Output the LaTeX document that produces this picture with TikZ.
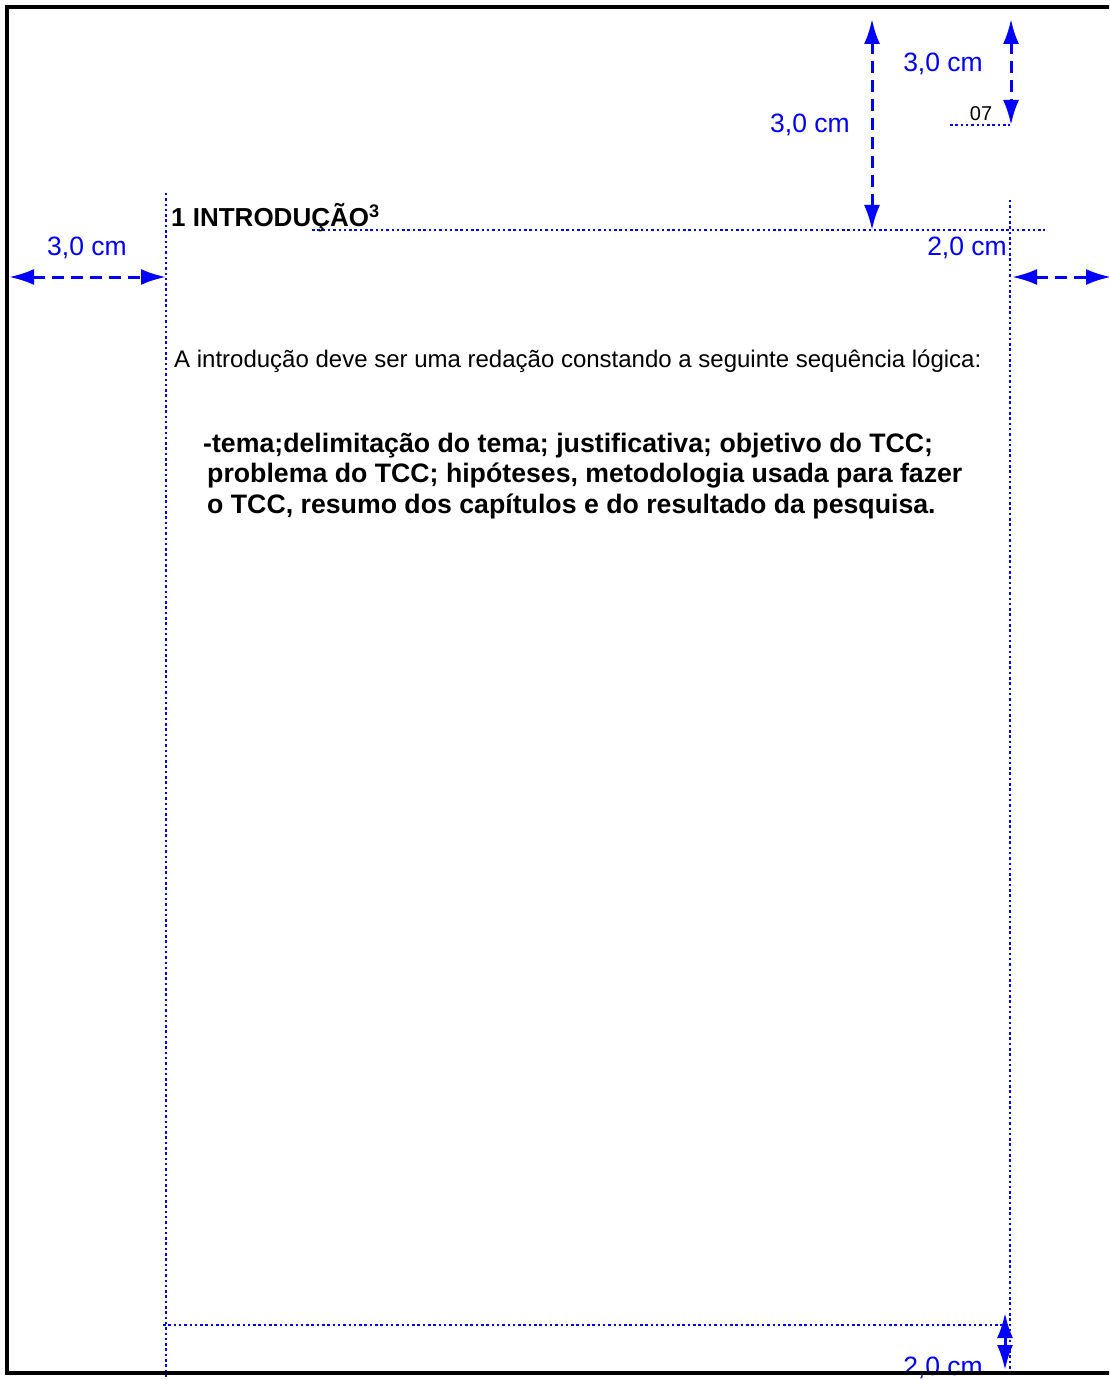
\documentclass[tikz,border=0pt]{standalone}
\usepackage{fontspec}
\setmainfont{Liberation Sans}
\usetikzlibrary{arrows.meta}
\definecolor{dimblue}{RGB}{0,0,255}
\tikzset{
  dimarrow/.style={draw=dimblue, line width=3pt, dash pattern=on 12pt off 7pt,
    {Latex[length=25pt,width=16pt]}-{Latex[length=25pt,width=16pt]}},
  guide/.style={draw=dimblue, line width=2.5pt, dash pattern=on 2.5pt off 2.8pt},
  dimlabel/.style={text=dimblue, font=\fontsize{26.5}{30}\selectfont, inner sep=0pt},
  bodytext/.style={font=\fontsize{24}{28}\selectfont, inner sep=0pt, anchor=base west},
  boldtext/.style={font=\bfseries\fontsize{26.7}{30}\selectfont, inner sep=0pt, anchor=base west}
}
\begin{document}
\begin{tikzpicture}[x=1pt,y=-1pt]
\useasboundingbox (0,0) rectangle (1109,1380);
\clip (0,0) rectangle (1109,1380);
% margin guides
\coordinate (lgTop) at (166,193);
\coordinate (lgBot) at (166,1380);
\coordinate (rgTop) at (1010,200);
\coordinate (rgBot) at (1010,1372);
\coordinate (tgL) at (312,230);
\coordinate (tgR) at (1045,230);
\coordinate (bgL) at (163,1325);
\coordinate (bgR) at (1010,1325);
\coordinate (pnL) at (950,125);
\coordinate (pnR) at (1010,125);
\draw[guide] (lgTop) -- (lgBot);
\draw[guide] (rgTop) -- (rgBot);
\draw[guide] (tgL) -- (tgR);
\draw[guide] (bgL) -- (bgR);
\draw[guide] (pnL) -- (pnR);
% dimension arrows
\coordinate (a1t) at (872,19);
\coordinate (a1b) at (872,230);
\draw[dimarrow] (a1t) -- (a1b);
\coordinate (a2t) at (1011,19);
\coordinate (a2b) at (1011,125);
\draw[dimarrow] (a2t) -- (a2b);
\coordinate (a3l) at (9,277);
\coordinate (a3r) at (166,277);
\draw[dimarrow] (a3l) -- (a3r);
\coordinate (a4l) at (1012,277);
\coordinate (a4r) at (1111,277);
\draw[dimarrow] (a4l) -- (a4r);
\coordinate (a5t) at (1005,1313);
\coordinate (a5b) at (1005,1370);
\draw[dimarrow, solid] (a5t) -- (a5b);
% labels
\node[dimlabel] (l1) at (810,125) {3,0 cm};
\node[dimlabel] (l2) at (943,64) {3,0 cm};
\node[dimlabel] (l3) at (87,248) {3,0 cm};
\node[dimlabel] (l4) at (967,248) {2,0 cm};
\node[dimlabel] (l5) at (943,1368) {2,0 cm};
\node[font=\fontsize{20}{24}\selectfont, inner sep=0pt] (pn) at (981,114) {07};
% texts
\node[boldtext, font=\bfseries\fontsize{26}{30}\selectfont] (head) at (171,227) {1 INTRODUÇÃO\textsuperscript{3}};
\node[bodytext] (intro) at (174,367) {A introdução deve ser uma redação constando a seguinte sequência lógica:};
\node[boldtext] (b1) at (203,452) {-tema;delimitação do tema; justificativa; objetivo do TCC;};
\node[boldtext] (b2) at (207,482) {problema do TCC; hipóteses, metodologia usada para fazer};
\node[boldtext] (b3) at (207,513) {o TCC, resumo dos capítulos e do resultado da pesquisa.};
% page frame (drawn on top)
\draw[line width=4pt] (7,7) rectangle (1140,1373);
\end{tikzpicture}
\end{document}
